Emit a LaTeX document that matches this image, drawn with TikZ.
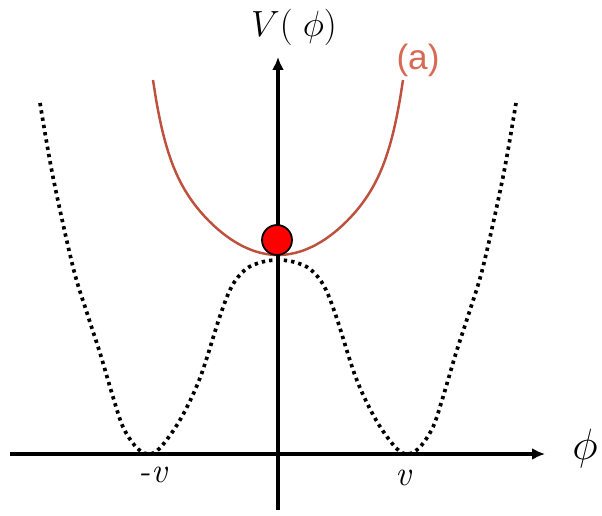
\documentclass[tikz,border=0pt]{standalone}
\usepackage{amsmath,amssymb}
\usepackage{fontspec}
\newfontfamily\labelsans{Liberation Sans}
\usepackage{tikz}
\usetikzlibrary{arrows.meta,calc}
\definecolor{potred}{RGB}{190,80,62}
\definecolor{lblred}{RGB}{215,105,85}
\definecolor{ballred}{RGB}{255,0,0}
\tikzset{
  axis/.style={line width=2.1pt,-{Latex[length=2.6mm,width=2.4mm]}},
  dotcurve/.style={line width=2.1pt,dash pattern=on 1.9pt off 2.3pt},
  redcurve/.style={draw=potred,line width=1.4pt},
  ball/.style={circle,draw=black,line width=1pt,fill=ballred,minimum size=0.6cm,inner sep=0pt},
  axlabel/.style={inner sep=0pt,font=\fontsize{20}{24}\selectfont}
}

\begin{document}
\begin{tikzpicture}[x=0.02cm,y=0.02cm]
  \useasboundingbox (-278,-62) rectangle (324,454);
  % double well, dotted
  \draw[dotcurve] plot[smooth,tension=0.55] coordinates {
    (-238,351) (-225,277) (-205,187) (-191,141) (-178,101) (-165,57)
    (-155,27) (-142,7) (-130,0) (-118,6) (-98,34) (-78,76) (-58,138)
    (-46,168) (-32,185) (-16,192) (0,194)
    (16,192) (32,185) (46,168) (58,138) (78,76) (98,34) (118,6) (130,0)
    (142,7) (155,27) (165,57) (178,101) (191,141) (205,187) (225,277) (238,351)};
  % curve (a)
  \draw[redcurve] plot[domain=-125:125,samples=81,smooth]
    (\x,{199+111*(\x/125)^2+64*(\x/125)^10});
  % axes
  \coordinate (xl) at (-268,0);
  \coordinate (xr) at (267,0);
  \coordinate (yb) at (0,-56);
  \coordinate (yt) at (0,397);
  \draw[axis] (xl) -- (xr);
  \draw[axis] (yb) -- (yt);
  \node[ball] (ball) at (-1,214) {};
  % labels
  \node[axlabel,font=\fontsize{22}{26}\selectfont] (vlab) at (16,427) {$V(\;\phi)$};
  \node[axlabel,font=\fontsize{26}{30}\selectfont] (philab) at (307,5) {$\phi$};
  \node[axlabel,text=lblred,font=\labelsans\fontsize{20}{24}\selectfont] (alab) at (140,394) {(a)};
  \node[axlabel] (mv) at (-125,-21) {\itshape -v};
  \node[axlabel] (pv) at (125,-24) {\itshape v};
\end{tikzpicture}
\end{document}
